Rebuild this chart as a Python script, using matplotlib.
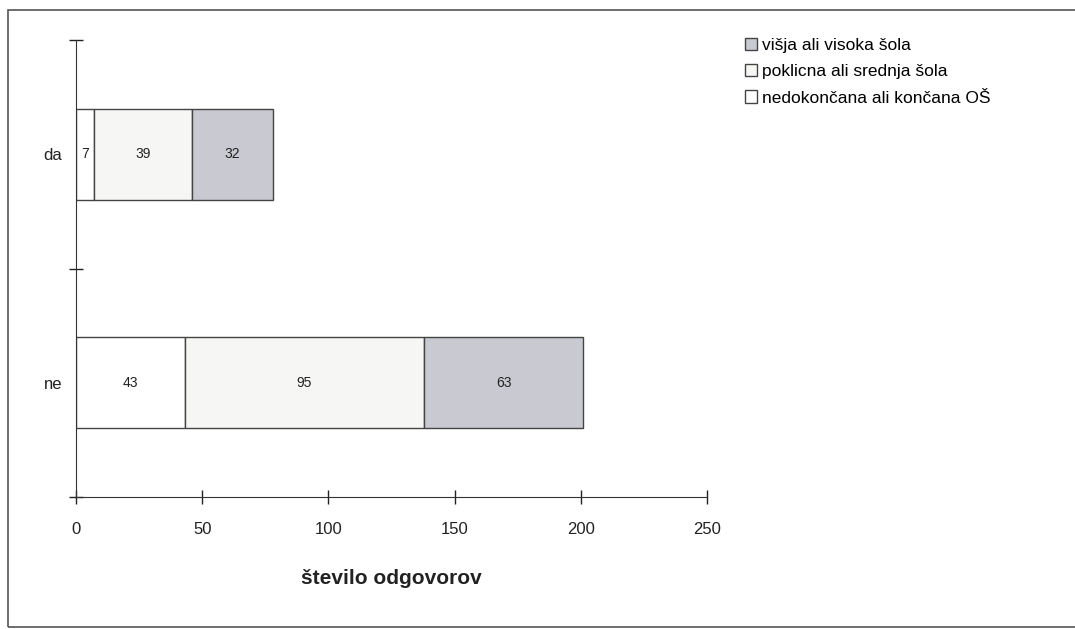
import matplotlib.pyplot as plt
from matplotlib.patches import Rectangle
from matplotlib.ticker import FixedLocator

plt.rcParams['font.family'] = ['Liberation Sans', 'DejaVu Sans']

# data
categories = ["ne", "da"]
series_names = ["nedokončana ali končana OŠ", "poklicna ali srednja šola", "višja ali visoka šola"]
osnovna = [43, 7]
srednja = [95, 39]
visoka = [63, 32]
series_values = [osnovna, srednja, visoka]
series_colors = ["#ffffff", "#f6f6f4", "#c9c9d1"]

fig = plt.figure(figsize=(10.75, 6.29), dpi=100)
ax = fig.add_axes([76 / 1075, 1 - 497 / 629, 631 / 1075, 457 / 629])

# frame around the whole chart
fig.patches.append(Rectangle((8 / 1075, 0.003), 1.2, 1 - 10 / 629 - 0.003,
                             transform=fig.transFigure, fill=False,
                             edgecolor="#555555", linewidth=1.2))

ypos = list(range(len(categories)))
left = [0, 0]
for name, vals, col in zip(series_names, series_values, series_colors):
    ax.barh(ypos, vals, left=left, height=0.4, color=col,
            edgecolor="#444444", linewidth=1.0, label=name)
    for y, v, l in zip(ypos, vals, left):
        ax.text(l + v / 2, y, str(v), ha="center", va="center", fontsize=10, color="#222222")
    left = [l + v for l, v in zip(left, vals)]

ax.set_xlim(0, 250)
ax.set_ylim(-0.5, 1.5)
ax.set_xticks([0, 50, 100, 150, 200, 250])
ax.tick_params(axis="x", direction="inout", length=10, width=1, labelsize=12, pad=13, colors="#222222")
ax.set_yticks(ypos)
ax.set_yticklabels(categories)
ax.yaxis.set_minor_locator(FixedLocator([-0.5, 0.5, 1.5]))
ax.tick_params(axis="y", which="major", length=0, labelsize=12, pad=10, colors="#222222")
ax.tick_params(axis="y", which="minor", direction="inout", length=10, width=1, color="#222222")

for s in ["top", "right"]:
    ax.spines[s].set_visible(False)
ax.spines["left"].set_color("#333333")
ax.spines["bottom"].set_color("#333333")

ax.set_xlabel("število odgovorov", fontsize=15, fontweight="bold", labelpad=23, color="#222222")

handles, labels = ax.get_legend_handles_labels()
fig.legend(handles[::-1], labels[::-1], loc="upper left", bbox_to_anchor=(729 / 1075, 1 - 22 / 629),
           frameon=False, fontsize=12.5, handlelength=0.7, handleheight=0.7,
           handletextpad=0.3, labelspacing=0.65)

fig.savefig("out.png", dpi=100)
